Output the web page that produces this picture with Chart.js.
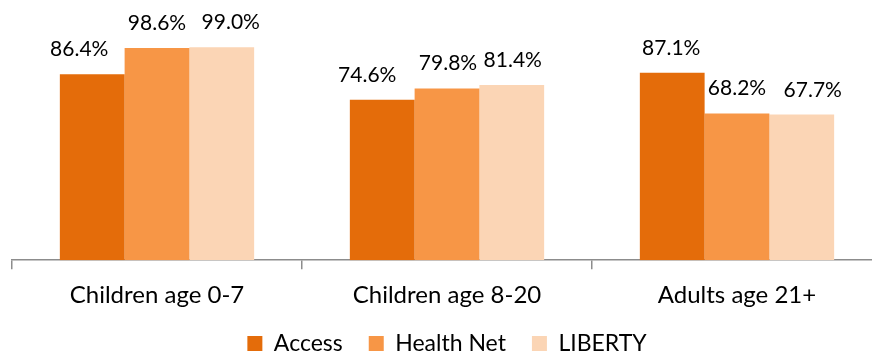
<!DOCTYPE html>
<html>
<head>
<meta charset="utf-8">
<script src="https://cdn.jsdelivr.net/npm/chart.js@4/dist/chart.umd.min.js"></script>
<style>
html,body{margin:0;padding:0;background:#fff;overflow:hidden;}
#wrap{width:882px;height:353px;position:relative;}
</style>
</head>
<body>
<div id="wrap"><canvas id="c"></canvas></div>
<script>
const categories = ["Children age 0-7", "Children age 8-20", "Adults age 21+"];
const seriesNames = ["Access", "Health Net", "LIBERTY"];
const accessValues = [86.4, 74.6, 87.1];
const healthNetValues = [98.6, 79.8, 68.2];
const libertyValues = [99.0, 81.4, 67.7];
const colors = ["#E46C0A", "#F79646", "#FBD5B5"];
// small horizontal nudges for labels (mimic original label placement)
const labelNudge = [[-13, -15, -1], [0, 1, 0], [9, 1, 11]];

const FONT = "Lato, 'Open Sans', sans-serif";
const LEGEND_SHIFT = 16;

const valueLabels = {
  id: 'valueLabels',
  afterLayout(chart) {
    if (chart.legend) {
      chart.legend.top -= LEGEND_SHIFT;
      chart.legend.bottom -= LEGEND_SHIFT;
    }
  },
  afterDatasetsDraw(chart) {
    const ctx = chart.ctx;
    ctx.save();
    ctx.font = "21px " + FONT;
    ctx.fillStyle = "#000";
    ctx.textAlign = "center";
    ctx.textBaseline = "alphabetic";
    chart.data.datasets.forEach((ds, di) => {
      const meta = chart.getDatasetMeta(di);
      meta.data.forEach((el, i) => {
        const v = ds.data[i];
        ctx.fillText(v.toFixed(1) + "%", el.x + labelNudge[di][i], el.y - 18);
      });
    });
    ctx.restore();
  }
};

new Chart(document.getElementById('c'), {
  type: 'bar',
  data: {
    labels: categories,
    datasets: [
      { label: seriesNames[0], data: accessValues, backgroundColor: colors[0] },
      { label: seriesNames[1], data: healthNetValues, backgroundColor: colors[1] },
      { label: seriesNames[2], data: libertyValues, backgroundColor: colors[2] }
    ]
  },
  options: {
    responsive: true,
    maintainAspectRatio: false,
    animation: false,
    layout: { padding: { left: 12, right: 0, top: 45, bottom: -28 } },
    datasets: { bar: { categoryPercentage: 0.67, barPercentage: 1.0 } },
    scales: {
      y: { display: false, min: 0, max: 100 },
      x: {
        grid: { display: true, offset: true, drawOnChartArea: false, drawTicks: true, tickLength: 9, color: "#8c8c8c", lineWidth: 1.5 },
        border: { display: true, color: "#8c8c8c", width: 1.5 },
        ticks: { color: "#000", font: { family: FONT, size: 24 }, padding: 12 }
      }
    },
    plugins: {
      legend: {
        position: 'bottom',
        labels: { color: "#000", font: { family: FONT, size: 23 }, boxWidth: 15, boxHeight: 15, padding: 26 }
      },
      tooltip: { enabled: false }
    }
  },
  plugins: [valueLabels]
});
</script>
</body>
</html>
